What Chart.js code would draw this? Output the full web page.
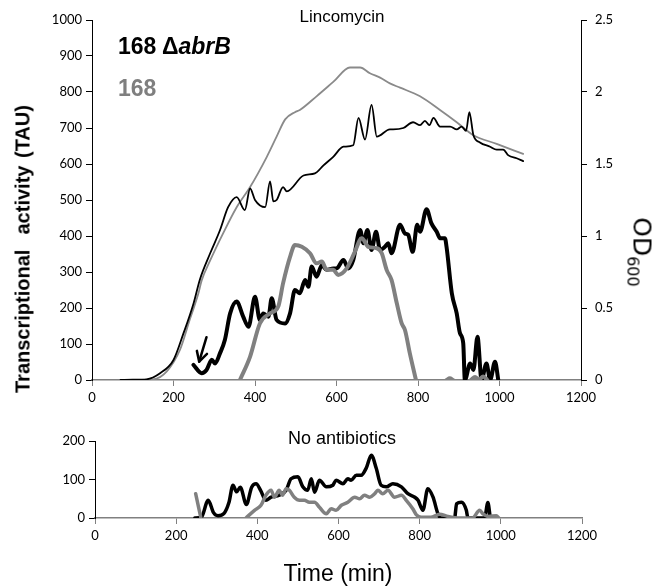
<!DOCTYPE html>
<html><head><meta charset="utf-8">
<script src="https://cdn.jsdelivr.net/npm/chart.js@4"></script>
<style>
html,body{margin:0;padding:0;background:#fff;}
#wrap{position:relative;width:666px;height:586px;overflow:hidden;font-family:"Liberation Sans",Arial,sans-serif;color:#000;}
#top{position:absolute;left:0;top:0;width:666px;height:420px;}
#bot{position:absolute;left:0;top:420px;width:666px;height:166px;}
.lbl{position:absolute;white-space:pre;transform:translate(-50%,-50%);}
</style></head>
<body>
<div id="wrap">
  <div id="top"><canvas id="c1"></canvas></div>
  <div id="bot"><canvas id="c2"></canvas></div>
  <div class="lbl" style="left:342px;top:17px;font-size:17px;">Lincomycin</div>
  <div class="lbl" style="left:342px;top:438px;font-size:18px;">No antibiotics</div>
  <div class="lbl" style="left:338px;top:573px;font-size:23px;">Time (min)</div>
  <div class="lbl" style="left:118px;top:46px;transform:translate(0,-50%);font-size:23px;font-weight:bold;">168 Δ<i>abrB</i></div>
  <div class="lbl" style="left:118px;top:88px;transform:translate(0,-50%);font-size:23px;font-weight:bold;color:#7f7f7f;">168</div>
  <div class="lbl" style="left:23px;top:249px;transform:translate(-50%,-50%) rotate(-90deg);font-size:20px;font-weight:bold;word-spacing:2px;">Transcriptional  activity (TAU)</div>
  <div class="lbl" style="left:640px;top:252px;transform:translate(-50%,-50%) rotate(90deg);font-family:'DejaVu Sans',sans-serif;font-size:25px;">OD<sub style="font-size:16px;">600</sub></div>
</div>
<script>
// ---- Top panel (Lincomycin) ----
// OD600, 168 ΔabrB (thin black)
const odMutT = [70,100,134,167,200,224,249,265,290,314,334,355,375,388,400,425,437,445,453,469,478,519,547,568,592,617,641,654,670,686,699,731,739,764,788,805,817,828,838,854,879,895,907,918,926,936,952,977,993,1009,1022,1042,1058];
const odMutV = [0,0.002,0.005,0.047,0.139,0.32,0.53,0.70,0.88,1.04,1.20,1.27,1.18,1.33,1.25,1.20,1.38,1.24,1.25,1.34,1.31,1.42,1.435,1.49,1.55,1.62,1.63,1.82,1.67,1.91,1.69,1.74,1.74,1.75,1.79,1.77,1.80,1.77,1.82,1.76,1.76,1.74,1.76,1.73,1.86,1.70,1.65,1.62,1.60,1.60,1.56,1.54,1.52];
// OD600, 168 (thin gray)
const odWtT = [70,150,183,216,240,261,269,290,322,355,388,429,453,474,498,510,551,592,633,658,682,707,731,756,805,854,895,936,993,1058];
const odWtV = [0,0.005,0.058,0.21,0.42,0.60,0.69,0.83,1.02,1.20,1.34,1.55,1.69,1.81,1.86,1.875,1.97,2.07,2.17,2.17,2.13,2.10,2.06,2.03,1.97,1.875,1.79,1.70,1.64,1.57];
// TAU, 168 ΔabrB (thick black)
const tauMutT = [249,269,281,294,302,314,326,339,355,371,384,400,412,420,433,441,453,474,486,498,510,523,531,539,551,564,576,592,600,617,629,641,658,666,676,686,697,707,719,727,735,756,768,776,787,798,805,821,833,846,854,866,870,883,895,903,911,915,928,936,946,956,968,977,989,997];
const tauMutV = [42,19,28,56,46,74,111,185,218,176,148,231,167,185,176,227,167,157,185,250,241,278,259,315,287,319,306,310,310,333,310,333,417,380,417,361,412,361,370,380,352,431,407,403,356,431,412,474,435,412,394,394,370,241,185,130,102,0,46,28,120,0,46,0,51,0];
// TAU, 168 (thick gray)
const tauWtT = [363,388,412,437,457,469,486,498,515,535,551,564,576,592,604,625,645,662,678,699,711,723,735,748,760,768,780,795,836,870,878,886,910,930,940,950,960,970];
const tauWtV = [0,65,157,185,204,269,342,375,370,352,324,329,306,306,292,310,356,394,370,366,352,306,278,213,157,139,74,0,null,0,5,0,null,0,8,2,10,0];
// Arrow annotation (time, TAU)
const arrowTail = [281,119];
const arrowTip = [263,51];

// ---- Bottom panel (No antibiotics) ----
const noAbMutT = [246,262,279,292,303,318,330,340,349,358,373,386,397,408,421,434,454,471,483,500,512,524,533,541,553,570,586,594,611,623,631,644,656,668,681,693,705,718,734,755,771,788,796,808,820,833,845,853,886,891,903,915,919,960,968,974];
const noAbMutV = [0,2,46,14,6,12,40,85,68,80,35,80,89,72,46,54,59,72,102,107,81,72,102,67,98,81,85,98,89,102,98,111,111,129,163,129,85,81,89,81,63,54,46,20,76,54,11,0,0,37,41,20,0,0,40,0];
const noAbWtT = [248,261,300,372,393,409,421,434,442,454,462,471,479,491,504,516,528,541,553,570,582,594,607,623,640,652,664,677,689,697,709,722,738,755,767,783,792,804,827,849,870,900,930,948,956,970,989,995];
const noAbWtV = [63,0,null,0,20,33,59,72,54,72,59,76,72,54,46,46,41,41,28,11,24,20,33,41,54,50,59,54,63,72,63,72,54,59,46,24,8,2,2,10,4,0,0,20,11,4,6,0];

// tick labels
const xTicks = [0,200,400,600,800,1000,1200];
const tauTicksTop = [0,100,200,300,400,500,600,700,800,900,1000];
const odTicks = [0,0.5,1,1.5,2,2.5];
const tauTicksBottom = [0,100,200];

const zip = (t,v)=>t.map((x,i)=>({x:x,y:v[i]}));
const BLACK='#000000', GRAY='#808080';
const tickFont = {family:'Lato, "Liberation Sans", sans-serif', size:13};

function axisStyle(lineColor, lineW){
  return {
    border:{display:true,color:lineColor,width:lineW},
    grid:{drawOnChartArea:false,drawTicks:true,tickLength:6,color:lineColor,tickColor:lineColor,lineWidth:1},
  };
}

const arrowPlugin = {
  id:'arrow',
  afterDatasetsDraw(chart){
    const xs=chart.scales.x, ys=chart.scales.y, ctx=chart.ctx;
    const x0=xs.getPixelForValue(arrowTail[0]), y0=ys.getPixelForValue(arrowTail[1]);
    const x1=xs.getPixelForValue(arrowTip[0]), y1=ys.getPixelForValue(arrowTip[1]);
    const a=Math.atan2(y1-y0,x1-x0), L=11, s=0.5;
    ctx.save();
    ctx.strokeStyle=BLACK; ctx.lineWidth=2.5; ctx.lineCap='round'; ctx.lineJoin='round';
    ctx.beginPath(); ctx.moveTo(x0,y0); ctx.lineTo(x1,y1); ctx.stroke();
    ctx.beginPath();
    ctx.moveTo(x1-L*Math.cos(a-s), y1-L*Math.sin(a-s));
    ctx.lineTo(x1,y1);
    ctx.lineTo(x1-L*Math.cos(a+s), y1-L*Math.sin(a+s));
    ctx.stroke();
    ctx.restore();
  }
};

const common = {
  responsive:true, maintainAspectRatio:false, animation:false,
  plugins:{legend:{display:false},tooltip:{enabled:false},title:{display:false}},
  elements:{point:{radius:0},line:{cubicInterpolationMode:'monotone',borderCapStyle:'round',borderJoinStyle:'round'}},
};

function xScale(h){
  return Object.assign({
    type:'linear',min:0,max:1200,
    afterBuildTicks:s=>{s.ticks=xTicks.map(v=>({value:v}));},
    ticks:{callback:v=>String(v),font:tickFont,color:'#000',padding:4,maxRotation:0,autoSkip:false},
    afterFit:s=>{s.height=h;}
  }, axisStyle(GRAY,1.5));
}

new Chart(document.getElementById('c1'),{
  type:'line',
  data:{datasets:[
    {data:zip(odMutT,odMutV),yAxisID:'y1',borderColor:BLACK,borderWidth:1.8,order:1},
    {data:zip(odWtT,odWtV),yAxisID:'y1',borderColor:'#8a8a8a',borderWidth:1.8,order:2},
    {data:zip(tauWtT,tauWtV),yAxisID:'y',borderColor:GRAY,borderWidth:4,order:3,spanGaps:false},
    {data:zip(tauMutT,tauMutV),yAxisID:'y',borderColor:BLACK,borderWidth:4,order:4},
  ]},
  options:Object.assign({},common,{
    layout:{padding:{top:20,left:0,right:0,bottom:0}},
    scales:{
      x:xScale(40),
      y:Object.assign({type:'linear',position:'left',min:0,max:1000,
        afterBuildTicks:s=>{s.ticks=tauTicksTop.map(v=>({value:v}));},
        ticks:{callback:v=>String(v),font:tickFont,color:'#000',padding:4},
        afterFit:s=>{s.width=92;}}, axisStyle(BLACK,1)),
      y1:Object.assign({type:'linear',position:'right',min:0,max:2.5,
        afterBuildTicks:s=>{s.ticks=odTicks.map(v=>({value:v}));},
        ticks:{callback:v=>String(v),font:tickFont,color:'#000',padding:8},
        afterFit:s=>{s.width=85;}}, axisStyle(BLACK,1)),
    }
  }),
  plugins:[arrowPlugin]
});

new Chart(document.getElementById('c2'),{
  type:'line',
  data:{datasets:[
    {data:zip(noAbWtT,noAbWtV),borderColor:GRAY,borderWidth:3.5,order:1,spanGaps:false},
    {data:zip(noAbMutT,noAbMutV),borderColor:BLACK,borderWidth:3.5,order:2},
  ]},
  options:Object.assign({},common,{
    layout:{padding:{top:21,left:0,right:84,bottom:0}},
    scales:{
      x:xScale(68),
      y:Object.assign({type:'linear',position:'left',min:0,max:200,
        afterBuildTicks:s=>{s.ticks=tauTicksBottom.map(v=>({value:v}));},
        ticks:{callback:v=>String(v),font:tickFont,color:'#000',padding:4},
        afterFit:s=>{s.width=95;}}, axisStyle(BLACK,1)),
    }
  })
});
</script>
</body></html>
